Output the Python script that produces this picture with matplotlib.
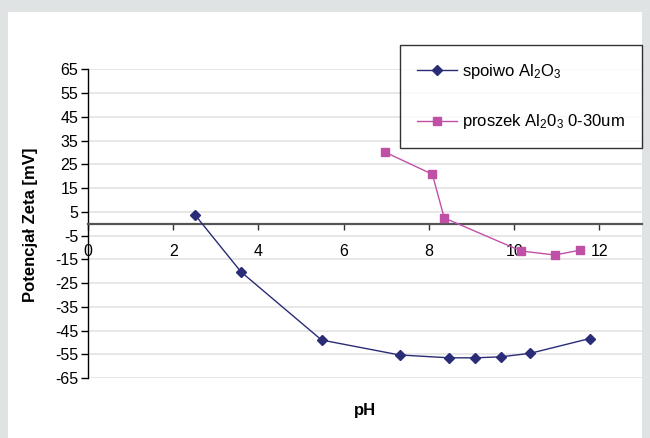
import matplotlib
matplotlib.use("Agg")
import matplotlib.pyplot as plt
from matplotlib.patches import Rectangle

plt.rcParams['font.family'] = ['Liberation Sans', 'DejaVu Sans']
plt.rcParams['mathtext.fontset'] = 'custom'
plt.rcParams['mathtext.rm'] = 'Liberation Sans'
plt.rcParams['mathtext.default'] = 'regular'

# Data
spoiwo_ph = [2.52, 3.59, 5.48, 7.31, 8.48, 9.08, 9.68, 10.38, 11.77]
spoiwo_zeta = [3.5, -20.3, -49.0, -55.3, -56.5, -56.5, -56.1, -54.6, -48.4]
proszek_ph = [6.96, 8.08, 8.36, 10.16, 10.95, 11.54]
proszek_zeta = [30.2, 20.8, 2.4, -11.5, -13.2, -11.2]

x_ticks = [0, 2, 4, 6, 8, 10, 12]
y_ticks = [-65, -55, -45, -35, -25, -15, -5, 5, 15, 25, 35, 45, 55, 65]

label_spoiwo = 'spoiwo Al$_{2}$O$_{3}$'
label_proszek = 'proszek Al$_{2}$0$_{3}$ 0-30um'

W, H = 650, 438
fig = plt.figure(figsize=(W / 100, H / 100), dpi=100)
fig.patch.set_facecolor('#e0e3e3')
bg = Rectangle((8 / W, 0), (642 - 8) / W, (H - 12) / H,
               transform=fig.transFigure, facecolor='white',
               edgecolor='none', zorder=-10)
fig.patches.append(bg)

ax = fig.add_axes([88 / W, (H - 378) / H, (642 - 88) / W, (378 - 69.3) / H])
ax.set_zorder(5)
ax.set_facecolor('white')
ax.set_xlim(0, 13)
ax.set_ylim(-65, 65)

for y in y_ticks:
    ax.axhline(y, color='#e3e3e3', lw=1.2, zorder=1)

navy = '#2a2c78'
pink = '#c050a6'
ax.plot(spoiwo_ph, spoiwo_zeta, color=navy, lw=1.0, marker='D', markersize=5,
        markerfacecolor=navy, markeredgecolor=navy, label=label_spoiwo, zorder=4)
ax.plot(proszek_ph, proszek_zeta, color=pink, lw=1.0, marker='s', markersize=6,
        markerfacecolor=pink, markeredgecolor=pink, label=label_proszek, zorder=4)

ax.spines['top'].set_visible(False)
ax.spines['right'].set_visible(False)
ax.spines['left'].set_color('black')
ax.spines['left'].set_linewidth(1.0)
ax.spines['bottom'].set_position(('data', 0))
ax.spines['bottom'].set_color('#555555')
ax.spines['bottom'].set_linewidth(1.6)

ax.set_xticks(x_ticks)
ax.set_xticklabels([str(t) for t in x_ticks])
ax.set_yticks(y_ticks)
ax.set_yticklabels([str(t) for t in y_ticks])
ax.tick_params(axis='x', direction='out', length=4, width=1, color='#333333',
               pad=11, labelsize=11.5)
ax.tick_params(axis='y', direction='out', length=5, width=1, color='black',
               pad=2, labelsize=11.5)

fig.text(31 / W, 1 - 225 / H, 'Potencjał Zeta [mV]', rotation=90, ha='center',
         va='center', fontsize=12, fontweight='bold')
fig.text(365 / W, 1 - 410 / H, 'pH', ha='center', va='center', fontsize=12,
         fontweight='bold')

leg = ax.legend(loc='upper right', bbox_to_anchor=(642 / W, 1 - 45 / H),
                bbox_transform=fig.transFigure, frameon=True, fancybox=False,
                edgecolor='black', fontsize=12, handlelength=2.45,
                handletextpad=0.3, labelspacing=1.9, borderpad=1.0,
                borderaxespad=0)
leg.get_frame().set_linewidth(1.0)

fig.savefig('out.png', dpi=100, facecolor=fig.get_facecolor())
